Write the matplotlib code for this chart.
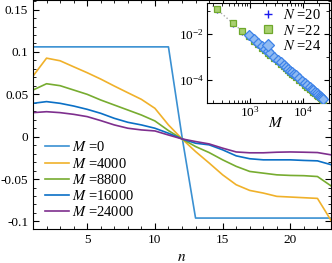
import matplotlib
matplotlib.use("Agg")
import matplotlib.pyplot as plt
from matplotlib.ticker import MultipleLocator, FixedLocator, LogLocator, NullFormatter, LogFormatterSciNotation

plt.rcParams['font.family'] = ['Liberation Serif', 'DejaVu Serif']
plt.rcParams['mathtext.fontset'] = 'stix'
plt.rcParams['axes.unicode_minus'] = False
plt.rcParams['font.size'] = 9.5

# ---- main panel data ----
n = [1, 2, 3, 4, 5, 6, 7, 8, 9, 10, 11, 12, 13, 14, 15, 16, 17, 18, 19, 20, 21, 22, 23]
m_labels = ['0', '4000', '8800', '16000', '24000']
y_M0 = [0.106, 0.106, 0.106, 0.106, 0.106, 0.106, 0.106, 0.106, 0.106, 0.106, 0.106, 0.0,
        -0.096, -0.096, -0.096, -0.096, -0.096, -0.096, -0.096, -0.096, -0.096, -0.096, -0.096]
y_M4000 = [0.0715, 0.0927, 0.0896, 0.0825, 0.0755, 0.068, 0.0598, 0.0519, 0.0441, 0.0335, 0.0139,
           -0.0026, -0.0175, -0.031, -0.045, -0.0567, -0.0634, -0.0665, -0.0704, -0.0712, -0.072,
           -0.0728, -0.0987]
y_M8800 = [0.0551, 0.0625, 0.0602, 0.0551, 0.05, 0.0433, 0.0374, 0.0315, 0.0256, 0.0186, 0.0072,
           -0.0026, -0.0116, -0.0187, -0.0273, -0.035, -0.041, -0.043, -0.045, -0.0457, -0.046,
           -0.047, -0.058]
y_M16000 = [0.0394, 0.0414, 0.0394, 0.0362, 0.0323, 0.0276, 0.0217, 0.017, 0.0139, 0.01, 0.0041,
            -0.0026, -0.0077, -0.0096, -0.0155, -0.0226, -0.026, -0.0273, -0.0273, -0.0273, -0.028,
            -0.0285, -0.033]
y_M24000 = [0.0284, 0.0295, 0.0284, 0.0264, 0.0237, 0.019, 0.0139, 0.01, 0.008, 0.0068, 0.002,
            -0.0026, -0.0057, -0.0085, -0.0135, -0.018, -0.019, -0.019, -0.0183, -0.018, -0.0183,
            -0.0187, -0.0214]
main_series = [y_M0, y_M4000, y_M8800, y_M16000, y_M24000]
main_colors = ['#3a90d2', '#f0b12a', '#77ac30', '#0b70c6', '#7e2f8e']

# ---- inset data ----
M_vals = [240, 480, 720, 960, 1200, 1440, 1680, 1920, 2160, 2400, 2880, 3360, 3840, 4320, 4800,
          5280, 5760, 6240, 6720, 7200, 8400, 9600, 10800, 12000, 13200, 14400, 15600, 16800,
          18000, 19200, 20400, 21600, 22800, 24000]
err_N20 = [0.1146, 0.0286, 0.0127, 0.00716, 0.00458, 0.00318, 0.00234, 0.00179, 0.00141, 0.00115,
           0.000796, 0.000585, 0.000448, 0.000354, 0.000286, 0.000237, 0.000199, 0.00017, 0.000146,
           0.000127, 9.35e-5, 7.16e-5, 5.66e-5, 4.58e-5, 3.79e-5, 3.18e-5, 2.71e-5, 2.34e-5, 2.04e-5,
           1.79e-5, 1.59e-5, 1.41e-5, 1.27e-5, 1.15e-5]
err_N22 = [0.125, 0.031, 0.0139, 0.00781, 0.005, 0.00347, 0.00255, 0.00195, 0.00154, 0.00125,
           0.000868, 0.000638, 0.000488, 0.000386, 0.000313, 0.000258, 0.000217, 0.000185, 0.000159,
           0.000139, 0.000102, 7.81e-5, 6.17e-5, 5.0e-5, 4.13e-5, 3.47e-5, 2.96e-5, 2.55e-5, 2.22e-5,
           1.95e-5, 1.73e-5, 1.54e-5, 1.385e-5, 1.25e-5]
M_vals24 = [960, 1200, 1440, 1680, 1920, 2160, 2400, 2880, 3360, 3840, 4320, 4800, 5280, 5760,
            6240, 6720, 7200, 8400, 9600, 10800, 12000, 13200, 14400, 15600, 16800, 18000, 19200,
            20400, 21600, 22800, 24000]
err_N24 = [0.00911, 0.00583, 0.00405, 0.00298, 0.00228, 0.0018, 0.00146, 0.00101, 0.000744, 0.00057,
           0.00045, 0.000365, 0.000301, 0.000253, 0.000216, 0.000186, 0.000162, 0.000119, 9.11e-5,
           7.2e-5, 5.83e-5, 4.82e-5, 4.05e-5, 3.45e-5, 2.98e-5, 2.59e-5, 2.28e-5, 2.02e-5, 1.8e-5,
           1.62e-5, 1.46e-5]
fit_M = [200, 26000]
fit_err = [0.17, 1.0e-5]

fig = plt.figure(figsize=(3.32, 2.63), dpi=100)
ax = fig.add_axes([0.0994, 0.129, 0.8976, 0.870])

for ys, lab, c in zip(main_series, m_labels, main_colors):
    ax.plot(n, ys, color=c, lw=1.2, label='$M$ =' + lab)

ax.set_xlim(1, 23)
ax.set_ylim(-0.109, 0.161)
ax.xaxis.set_major_locator(MultipleLocator(5))
ax.xaxis.set_minor_locator(MultipleLocator(1))
ax.yaxis.set_major_locator(FixedLocator([-0.1, -0.05, 0, 0.05, 0.1, 0.15]))
ax.yaxis.set_minor_locator(MultipleLocator(0.01))
ax.set_yticklabels(['-0.1', '-0.05', '0', '0.05', '0.1', '0.15'])
ax.tick_params(which='both', direction='in', top=True, right=True, labelsize=9.5)
ax.tick_params(which='major', length=4, width=0.8)
ax.tick_params(which='minor', length=2, width=0.6)
ax.set_xlabel('$n$', labelpad=3.5, fontsize=11)
ax.legend(loc='lower left', frameon=False, bbox_to_anchor=(0.0, -0.008), handlelength=1.7,
          handletextpad=0.2, labelspacing=0.15, borderaxespad=0.4, fontsize=10.5)

# ---- inset ----
axi = fig.add_axes([0.6226, 0.6095, 0.3693, 0.380])
axi.set_xscale('log')
axi.set_yscale('log')
axi.plot(fit_M, fit_err, ls=':', color='#aaaaaa', lw=1.0, zorder=1)
axi.plot(M_vals, err_N20, ls='none', marker='+', ms=5, mew=1.0, color='#1a1aee', label='$N$ =20', zorder=2)
axi.plot(M_vals, err_N22, ls='none', marker='s', ms=5, mew=0.9, mfc='#a9d070', mec='#6fa82c',
         label='$N$ =22', zorder=3)
axi.plot(M_vals24, err_N24, ls='none', marker='D', ms=5, mew=0.9, mfc='#8fbaf2', mec='#3d82e8',
         label='$N$ =24', zorder=4)
axi.set_xlim(155, 30900)
axi.set_ylim(1.0e-5, 0.23)
axi.xaxis.set_major_locator(FixedLocator([1e3, 1e4]))
axi.xaxis.set_minor_locator(LogLocator(base=10, subs=(2, 3, 4, 5, 6, 7, 8, 9), numticks=20))
axi.xaxis.set_minor_formatter(NullFormatter())
axi.yaxis.set_major_locator(FixedLocator([1e-4, 1e-2]))
axi.yaxis.set_major_formatter(LogFormatterSciNotation())
axi.xaxis.set_major_formatter(LogFormatterSciNotation())
axi.yaxis.set_minor_locator(FixedLocator([1e-5, 1e-3, 1e-1]))
axi.yaxis.set_minor_formatter(NullFormatter())
axi.tick_params(which='both', direction='in', top=True, right=True, labelsize=9.5, pad=2)
axi.tick_params(which='major', length=3.5, width=0.8)
axi.tick_params(which='minor', length=2, width=0.6)
axi.set_xlabel('$M$', fontsize=11)
axi.xaxis.set_label_coords(0.56, -0.13)
axi.legend(loc='upper right', frameon=False, bbox_to_anchor=(1.0, 1.03), handlelength=1.0,
           handletextpad=0.5, labelspacing=0.12, borderaxespad=0.15, markerscale=1.2, fontsize=10.5)

fig.savefig('out.png', dpi=100)
